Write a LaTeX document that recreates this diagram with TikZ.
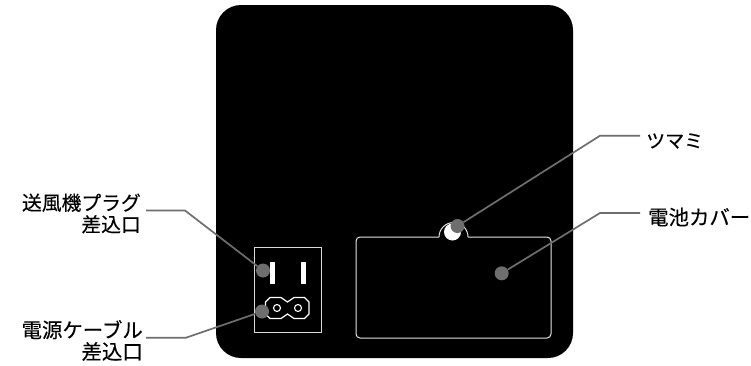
\documentclass[tikz,border=0pt]{standalone}
\usepackage{fontspec}
\setmainfont{Noto Sans CJK JP}[FakeBold=0.3]
\definecolor{leader}{HTML}{6E6E6E}
\tikzset{
 lbl/.style={inner sep=0pt,font=\fontsize{20.4pt}{21.6pt}\selectfont,text=black},
 lead/.style={draw=leader,line width=1.7pt},
 dot/.style={circle,fill=leader,minimum size=14pt,inner sep=0pt},
 wline/.style={draw=white,line width=1.2pt},
 hole/.style={circle,draw=white,line width=1.1pt,minimum size=7pt,inner sep=0pt}
}
\begin{document}
\begin{tikzpicture}[x=1pt,y=-1pt]
\useasboundingbox (0,0) rectangle (751,365);
\fill[black,rounded corners=25pt] (216,5) rectangle (573,358);
% socket panel
\draw[white!85!black,line width=1pt] (254,247) rectangle (321,332);
\fill[white] (269.5,262) rectangle (274.5,284);
\fill[white] (300.5,262) rectangle (305.5,284);
\draw[wline] (270,297.5) -- (281,297.5) -- (287.5,302) -- (294,297.5) -- (304.5,297.5) -- (309,302) -- (309,314) -- (304.5,318.5) -- (294,318.5) -- (287.5,314) -- (281,318.5) -- (270,318.5) -- (265.5,314) -- (265.5,302) -- cycle;
\node[hole] (h1) at (277,308) {};
\node[hole] (h2) at (298,308) {};
% battery cover
\draw[white!90!black,line width=1pt,rounded corners=4pt] (439,237) -- (356,237) -- (356,338) -- (551,338) -- (551,237) -- (468,237);
\draw[white!90!black,line width=1pt] (439,237) arc[start angle=180,end angle=360,radius=14.5];
\fill[white] (452.5,232) circle[radius=8.5];
% leaders
\node[dot] (d1) at (263,270.5) {};
\node[dot] (d2) at (262,311.5) {};
\node[dot] (d3) at (457.5,226) {};
\node[dot] (d4) at (501.7,273.3) {};
\node[lbl,anchor=east,align=right,font=\fontsize{19.8pt}{21.6pt}\selectfont] (t1) at (141,213.5) {送風機プラグ\\差込口};
\node[lbl,anchor=east,align=right] (t2) at (143,340.5) {電源ケーブル\\差込口};
\node[lbl,anchor=west,font=\fontsize{19pt}{21.6pt}\selectfont] (t3) at (646,141) {ツマミ};
\node[lbl,anchor=west] (t4) at (648,217) {電池カバー};
\coordinate (a1) at (146,210.5);
\coordinate (b1) at (185,210.5);
\coordinate (a2) at (146,337.7);
\coordinate (b2) at (186,337.7);
\coordinate (a3) at (640,135.7);
\coordinate (b3) at (600,135.7);
\coordinate (a4) at (640,213);
\coordinate (b4) at (600,213);
\draw[lead] (a1) -- (b1) -- (d1);
\draw[lead] (a2) -- (b2) -- (d2);
\draw[lead] (a3) -- (b3) -- (d3);
\draw[lead] (a4) -- (b4) -- (d4);
\end{tikzpicture}
\end{document}
